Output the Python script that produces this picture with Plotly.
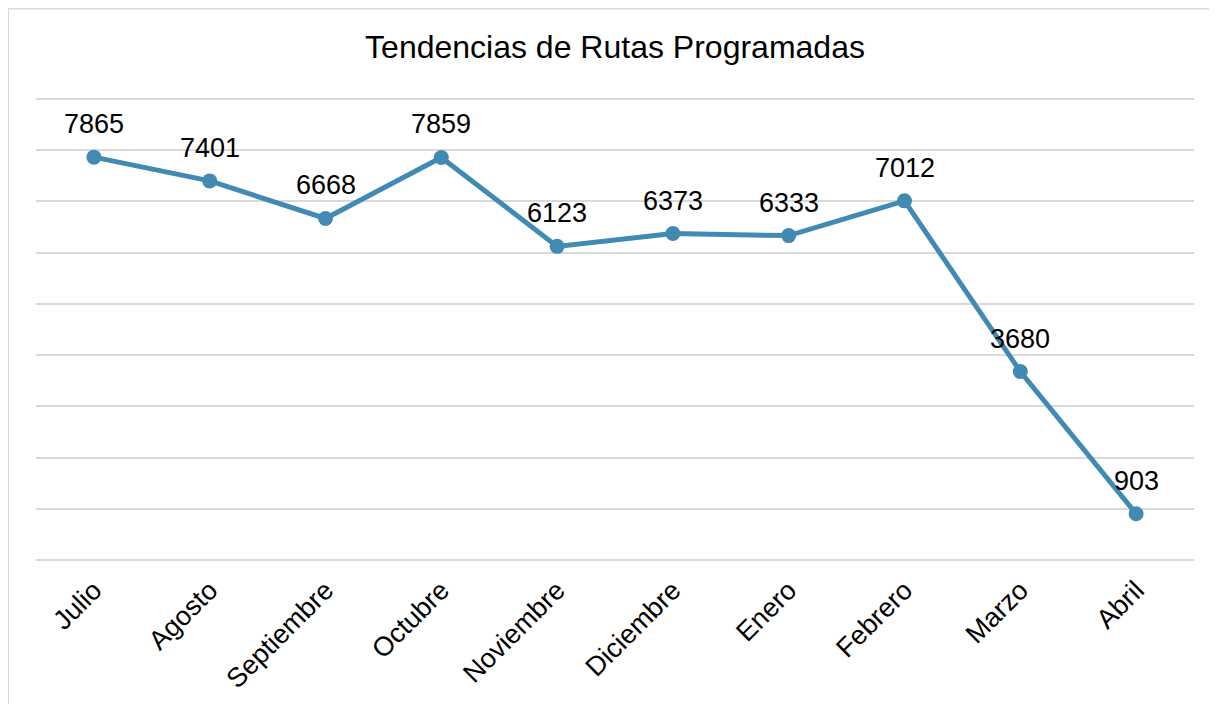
import plotly.graph_objects as go

months = ["Julio", "Agosto", "Septiembre", "Octubre", "Noviembre",
          "Diciembre", "Enero", "Febrero", "Marzo", "Abril"]
rutas = [7865, 7401, 6668, 7859, 6123, 6373, 6333, 7012, 3680, 903]

W, H = 1217, 704
L, R = 28, 31
plot_bottom = 552          # pixel of value 0 (figure coords)
plot_top_9000 = 91         # pixel of value 9000
T = 86
B = H - plot_bottom
pw = W - L - R
ph = H - T - B
y_top = 9000 * (plot_bottom - T) / (plot_bottom - plot_top_9000)

line_color = "rgb(65,138,179)"
font_family = "Liberation Sans, Arial, sans-serif"

fig = go.Figure()
fig.add_trace(go.Scatter(
    x=months, y=rutas, mode="lines+markers",
    line=dict(color=line_color, width=5),
    marker=dict(color=line_color, size=15),
    hoverinfo="x+y", showlegend=False,
))

annotations = []
for m, v in zip(months, rutas):
    annotations.append(dict(
        x=m, y=v, xref="x", yref="y", text=str(v), showarrow=False,
        yanchor="bottom", xanchor="center", yshift=16,
        font=dict(family=font_family, size=27, color="#000000"),
    ))

def px_x(x):
    return (x - L) / pw

def px_y(y):
    return (H - B - y) / ph

shapes = [
    dict(type="line", xref="paper", yref="paper",
         x0=px_x(0), x1=px_x(0), y0=px_y(0), y1=px_y(H + 10),
         line=dict(color="#D9D9D9", width=2)),
    dict(type="line", xref="paper", yref="paper",
         x0=px_x(0), x1=px_x(W + 10), y0=px_y(0.5), y1=px_y(0.5),
         line=dict(color="#D9D9D9", width=2)),
]

fig.update_layout(
    width=W, height=H,
    margin=dict(l=L, r=R, t=T, b=B, autoexpand=False),
    paper_bgcolor="white", plot_bgcolor="white",
    title=dict(text="Tendencias de Rutas Programadas",
               x=0.5, xref="paper", xanchor="center",
               y=1 - 39 / H, yref="container", yanchor="middle",
               font=dict(family=font_family, size=32, color="#000000")),
    xaxis=dict(type="category", range=[-0.5, 9.5], showgrid=False,
               showline=False, zeroline=False, ticks="",
               tickangle=-45, ticklabelstandoff=8,
               tickfont=dict(family=font_family, size=27, color="#000000")),
    yaxis=dict(range=[0, y_top], dtick=1000, tick0=0, showticklabels=False,
               showgrid=True, gridcolor="#D9D9D9", gridwidth=1.5,
               zeroline=True, zerolinecolor="#D9D9D9", zerolinewidth=1.5,
               showline=False, ticks=""),
    annotations=annotations,
    shapes=shapes,
    hovermode="closest",
)

fig.write_html("out.html")
